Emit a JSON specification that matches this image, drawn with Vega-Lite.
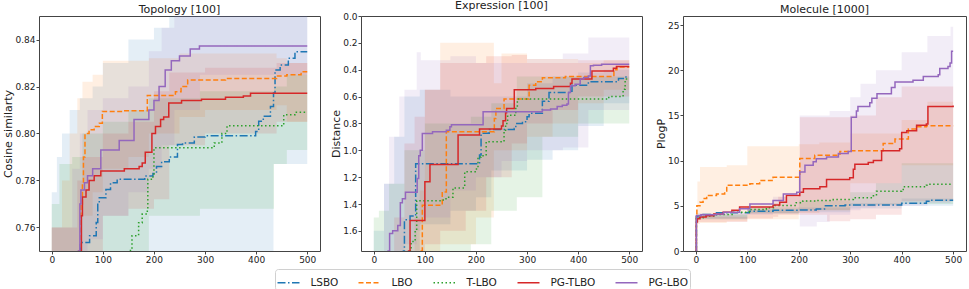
{
"$schema":"https://vega.github.io/schema/vega-lite/v6.json",
"padding":{"left":2,"top":-1,"right":3,"bottom":0},
"bounds":"flush",
"spacing":41,
"config":{
 "font":"DejaVu Sans",
 "view":{"stroke":"#444","strokeWidth":1},
 "axis":{"domain":false,"grid":false,"ticks":true,"tickSize":3,"tickColor":"#444","labelFontSize":9,"labelColor":"#222","titleFontSize":11,"titleFontWeight":"normal","titleColor":"#222","labelPadding":1,"titlePadding":1,"labelOverlap":false},
 "title":{"fontSize":11,"fontWeight":"normal","offset":0,"dy":3,"color":"#222","frame":"group"}
},
"datasets":{
"lines":[
{"p":"t","s":"LSBO","x":0,"y":0.70},{"p":"t","s":"LSBO","x":52,"y":0.750},{"p":"t","s":"LSBO","x":56,"y":0.7536},{"p":"t","s":"LSBO","x":74,"y":0.7565},{"p":"t","s":"LSBO","x":87,"y":0.7621},{"p":"t","s":"LSBO","x":90,"y":0.7706},{"p":"t","s":"LSBO","x":93,"y":0.7727},{"p":"t","s":"LSBO","x":106,"y":0.7762},{"p":"t","s":"LSBO","x":115,"y":0.779},{"p":"t","s":"LSBO","x":128,"y":0.7805},{"p":"t","s":"LSBO","x":182,"y":0.7819},{"p":"t","s":"LSBO","x":198,"y":0.783},{"p":"t","s":"LSBO","x":205,"y":0.786},{"p":"t","s":"LSBO","x":215,"y":0.788},{"p":"t","s":"LSBO","x":230,"y":0.790},{"p":"t","s":"LSBO","x":246,"y":0.7953},{"p":"t","s":"LSBO","x":256,"y":0.796},{"p":"t","s":"LSBO","x":279,"y":0.7985},{"p":"t","s":"LSBO","x":300,"y":0.799},{"p":"t","s":"LSBO","x":399,"y":0.8009},{"p":"t","s":"LSBO","x":405,"y":0.8052},{"p":"t","s":"LSBO","x":414,"y":0.8073},{"p":"t","s":"LSBO","x":428,"y":0.8115},{"p":"t","s":"LSBO","x":434,"y":0.8172},{"p":"t","s":"LSBO","x":437,"y":0.827},{"p":"t","s":"LSBO","x":447,"y":0.8292},{"p":"t","s":"LSBO","x":463,"y":0.832},{"p":"t","s":"LSBO","x":476,"y":0.8348},{"p":"t","s":"LSBO","x":500,"y":0.8348},
{"p":"t","s":"LBO","x":0,"y":0.70},{"p":"t","s":"LBO","x":53,"y":0.750},{"p":"t","s":"LBO","x":57,"y":0.770},{"p":"t","s":"LBO","x":60,"y":0.779},{"p":"t","s":"LBO","x":62,"y":0.790},{"p":"t","s":"LBO","x":65,"y":0.800},{"p":"t","s":"LBO","x":73,"y":0.8016},{"p":"t","s":"LBO","x":83,"y":0.803},{"p":"t","s":"LBO","x":93,"y":0.8044},{"p":"t","s":"LBO","x":99,"y":0.8094},{"p":"t","s":"LBO","x":140,"y":0.8097},{"p":"t","s":"LBO","x":187,"y":0.8162},{"p":"t","s":"LBO","x":242,"y":0.8178},{"p":"t","s":"LBO","x":253,"y":0.820},{"p":"t","s":"LBO","x":266,"y":0.8228},{"p":"t","s":"LBO","x":340,"y":0.8234},{"p":"t","s":"LBO","x":440,"y":0.8245},{"p":"t","s":"LBO","x":460,"y":0.825},{"p":"t","s":"LBO","x":488,"y":0.8263},{"p":"t","s":"LBO","x":500,"y":0.8263},
{"p":"t","s":"T-LBO","x":0,"y":0.70},{"p":"t","s":"T-LBO","x":150,"y":0.750},{"p":"t","s":"T-LBO","x":154,"y":0.7508},{"p":"t","s":"T-LBO","x":157,"y":0.7565},{"p":"t","s":"T-LBO","x":170,"y":0.762},{"p":"t","s":"T-LBO","x":177,"y":0.7657},{"p":"t","s":"T-LBO","x":187,"y":0.768},{"p":"t","s":"T-LBO","x":188,"y":0.7805},{"p":"t","s":"T-LBO","x":198,"y":0.782},{"p":"t","s":"T-LBO","x":200,"y":0.7939},{"p":"t","s":"T-LBO","x":318,"y":0.796},{"p":"t","s":"T-LBO","x":333,"y":0.800},{"p":"t","s":"T-LBO","x":343,"y":0.8033},{"p":"t","s":"T-LBO","x":454,"y":0.808},{"p":"t","s":"T-LBO","x":476,"y":0.809},{"p":"t","s":"T-LBO","x":500,"y":0.809},
{"p":"t","s":"PG-TLBO","x":0,"y":0.70},{"p":"t","s":"PG-TLBO","x":55,"y":0.750},{"p":"t","s":"PG-TLBO","x":58,"y":0.765},{"p":"t","s":"PG-TLBO","x":60,"y":0.773},{"p":"t","s":"PG-TLBO","x":67,"y":0.776},{"p":"t","s":"PG-TLBO","x":73,"y":0.780},{"p":"t","s":"PG-TLBO","x":83,"y":0.782},{"p":"t","s":"PG-TLBO","x":96,"y":0.784},{"p":"t","s":"PG-TLBO","x":142,"y":0.785},{"p":"t","s":"PG-TLBO","x":171,"y":0.786},{"p":"t","s":"PG-TLBO","x":177,"y":0.7875},{"p":"t","s":"PG-TLBO","x":183,"y":0.792},{"p":"t","s":"PG-TLBO","x":196,"y":0.800},{"p":"t","s":"PG-TLBO","x":203,"y":0.803},{"p":"t","s":"PG-TLBO","x":213,"y":0.806},{"p":"t","s":"PG-TLBO","x":219,"y":0.807},{"p":"t","s":"PG-TLBO","x":229,"y":0.813},{"p":"t","s":"PG-TLBO","x":254,"y":0.814},{"p":"t","s":"PG-TLBO","x":293,"y":0.8146},{"p":"t","s":"PG-TLBO","x":340,"y":0.8154},{"p":"t","s":"PG-TLBO","x":375,"y":0.816},{"p":"t","s":"PG-TLBO","x":389,"y":0.8171},{"p":"t","s":"PG-TLBO","x":500,"y":0.8171},
{"p":"t","s":"PG-LBO","x":0,"y":0.70},{"p":"t","s":"PG-LBO","x":52,"y":0.750},{"p":"t","s":"PG-LBO","x":55,"y":0.770},{"p":"t","s":"PG-LBO","x":57,"y":0.776},{"p":"t","s":"PG-LBO","x":64,"y":0.779},{"p":"t","s":"PG-LBO","x":70,"y":0.782},{"p":"t","s":"PG-LBO","x":80,"y":0.785},{"p":"t","s":"PG-LBO","x":96,"y":0.793},{"p":"t","s":"PG-LBO","x":132,"y":0.797},{"p":"t","s":"PG-LBO","x":161,"y":0.806},{"p":"t","s":"PG-LBO","x":190,"y":0.810},{"p":"t","s":"PG-LBO","x":200,"y":0.814},{"p":"t","s":"PG-LBO","x":210,"y":0.820},{"p":"t","s":"PG-LBO","x":222,"y":0.827},{"p":"t","s":"PG-LBO","x":234,"y":0.831},{"p":"t","s":"PG-LBO","x":250,"y":0.833},{"p":"t","s":"PG-LBO","x":271,"y":0.836},{"p":"t","s":"PG-LBO","x":289,"y":0.8372},{"p":"t","s":"PG-LBO","x":500,"y":0.8372},

{"p":"e","s":"LSBO","x":0,"y":1.9},{"p":"e","s":"LSBO","x":58,"y":1.75},{"p":"e","s":"LSBO","x":60,"y":1.518},{"p":"e","s":"LSBO","x":71,"y":1.49},{"p":"e","s":"LSBO","x":82,"y":1.10},{"p":"e","s":"LSBO","x":207,"y":1.035},{"p":"e","s":"LSBO","x":210,"y":0.874},{"p":"e","s":"LSBO","x":226,"y":0.845},{"p":"e","s":"LSBO","x":275,"y":0.837},{"p":"e","s":"LSBO","x":278,"y":0.80},{"p":"e","s":"LSBO","x":291,"y":0.787},{"p":"e","s":"LSBO","x":300,"y":0.75},{"p":"e","s":"LSBO","x":304,"y":0.725},{"p":"e","s":"LSBO","x":330,"y":0.634},{"p":"e","s":"LSBO","x":343,"y":0.57},{"p":"e","s":"LSBO","x":385,"y":0.56},{"p":"e","s":"LSBO","x":388,"y":0.515},{"p":"e","s":"LSBO","x":420,"y":0.49},{"p":"e","s":"LSBO","x":479,"y":0.465},{"p":"e","s":"LSBO","x":490,"y":0.455},{"p":"e","s":"LSBO","x":500,"y":0.455},
{"p":"e","s":"LBO","x":0,"y":1.9},{"p":"e","s":"LBO","x":93,"y":1.75},{"p":"e","s":"LBO","x":95,"y":1.41},{"p":"e","s":"LBO","x":134,"y":1.31},{"p":"e","s":"LBO","x":142,"y":0.862},{"p":"e","s":"LBO","x":236,"y":0.763},{"p":"e","s":"LBO","x":239,"y":0.688},{"p":"e","s":"LBO","x":255,"y":0.619},{"p":"e","s":"LBO","x":304,"y":0.515},{"p":"e","s":"LBO","x":317,"y":0.49},{"p":"e","s":"LBO","x":330,"y":0.46},{"p":"e","s":"LBO","x":375,"y":0.45},{"p":"e","s":"LBO","x":470,"y":0.40},{"p":"e","s":"LBO","x":476,"y":0.38},{"p":"e","s":"LBO","x":500,"y":0.38},
{"p":"e","s":"T-LBO","x":0,"y":1.9},{"p":"e","s":"T-LBO","x":72,"y":1.75},{"p":"e","s":"T-LBO","x":73,"y":1.68},{"p":"e","s":"T-LBO","x":81,"y":1.60},{"p":"e","s":"T-LBO","x":84,"y":1.375},{"p":"e","s":"T-LBO","x":136,"y":1.36},{"p":"e","s":"T-LBO","x":145,"y":1.35},{"p":"e","s":"T-LBO","x":155,"y":1.28},{"p":"e","s":"T-LBO","x":178,"y":1.16},{"p":"e","s":"T-LBO","x":201,"y":1.13},{"p":"e","s":"T-LBO","x":204,"y":1.05},{"p":"e","s":"T-LBO","x":210,"y":1.04},{"p":"e","s":"T-LBO","x":220,"y":0.936},{"p":"e","s":"T-LBO","x":255,"y":0.85},{"p":"e","s":"T-LBO","x":258,"y":0.80},{"p":"e","s":"T-LBO","x":262,"y":0.74},{"p":"e","s":"T-LBO","x":278,"y":0.676},{"p":"e","s":"T-LBO","x":281,"y":0.619},{"p":"e","s":"T-LBO","x":460,"y":0.60},{"p":"e","s":"T-LBO","x":488,"y":0.545},{"p":"e","s":"T-LBO","x":492,"y":0.47},{"p":"e","s":"T-LBO","x":500,"y":0.47},
{"p":"e","s":"PG-TLBO","x":0,"y":1.9},{"p":"e","s":"PG-TLBO","x":68,"y":1.75},{"p":"e","s":"PG-TLBO","x":71,"y":1.523},{"p":"e","s":"PG-TLBO","x":100,"y":1.235},{"p":"e","s":"PG-TLBO","x":110,"y":1.105},{"p":"e","s":"PG-TLBO","x":165,"y":0.887},{"p":"e","s":"PG-TLBO","x":207,"y":0.842},{"p":"e","s":"PG-TLBO","x":250,"y":0.82},{"p":"e","s":"PG-TLBO","x":253,"y":0.78},{"p":"e","s":"PG-TLBO","x":258,"y":0.72},{"p":"e","s":"PG-TLBO","x":260,"y":0.688},{"p":"e","s":"PG-TLBO","x":275,"y":0.55},{"p":"e","s":"PG-TLBO","x":317,"y":0.54},{"p":"e","s":"PG-TLBO","x":352,"y":0.525},{"p":"e","s":"PG-TLBO","x":385,"y":0.50},{"p":"e","s":"PG-TLBO","x":388,"y":0.47},{"p":"e","s":"PG-TLBO","x":427,"y":0.41},{"p":"e","s":"PG-TLBO","x":469,"y":0.39},{"p":"e","s":"PG-TLBO","x":475,"y":0.376},{"p":"e","s":"PG-TLBO","x":500,"y":0.376},
{"p":"e","s":"PG-LBO","x":0,"y":1.9},{"p":"e","s":"PG-LBO","x":28,"y":1.75},{"p":"e","s":"PG-LBO","x":31,"y":1.62},{"p":"e","s":"PG-LBO","x":37,"y":1.60},{"p":"e","s":"PG-LBO","x":47,"y":1.56},{"p":"e","s":"PG-LBO","x":52,"y":1.39},{"p":"e","s":"PG-LBO","x":56,"y":1.36},{"p":"e","s":"PG-LBO","x":62,"y":1.312},{"p":"e","s":"PG-LBO","x":85,"y":1.21},{"p":"e","s":"PG-LBO","x":88,"y":1.04},{"p":"e","s":"PG-LBO","x":91,"y":1.00},{"p":"e","s":"PG-LBO","x":95,"y":0.875},{"p":"e","s":"PG-LBO","x":115,"y":0.862},{"p":"e","s":"PG-LBO","x":142,"y":0.85},{"p":"e","s":"PG-LBO","x":149,"y":0.825},{"p":"e","s":"PG-LBO","x":152,"y":0.81},{"p":"e","s":"PG-LBO","x":214,"y":0.713},{"p":"e","s":"PG-LBO","x":330,"y":0.70},{"p":"e","s":"PG-LBO","x":346,"y":0.693},{"p":"e","s":"PG-LBO","x":359,"y":0.674},{"p":"e","s":"PG-LBO","x":369,"y":0.665},{"p":"e","s":"PG-LBO","x":378,"y":0.656},{"p":"e","s":"PG-LBO","x":381,"y":0.57},{"p":"e","s":"PG-LBO","x":385,"y":0.52},{"p":"e","s":"PG-LBO","x":394,"y":0.508},{"p":"e","s":"PG-LBO","x":404,"y":0.47},{"p":"e","s":"PG-LBO","x":411,"y":0.458},{"p":"e","s":"PG-LBO","x":420,"y":0.446},{"p":"e","s":"PG-LBO","x":424,"y":0.371},{"p":"e","s":"PG-LBO","x":430,"y":0.367},{"p":"e","s":"PG-LBO","x":446,"y":0.359},{"p":"e","s":"PG-LBO","x":500,"y":0.359},

{"p":"m","s":"LSBO","x":0,"y":0},{"p":"m","s":"LSBO","x":1,"y":3.8},{"p":"m","s":"LSBO","x":4,"y":3.93},{"p":"m","s":"LSBO","x":14,"y":4.04},{"p":"m","s":"LSBO","x":40,"y":4.23},{"p":"m","s":"LSBO","x":104,"y":4.41},{"p":"m","s":"LSBO","x":150,"y":4.5},{"p":"m","s":"LSBO","x":201,"y":4.55},{"p":"m","s":"LSBO","x":234,"y":4.65},{"p":"m","s":"LSBO","x":250,"y":5.0},{"p":"m","s":"LSBO","x":290,"y":5.08},{"p":"m","s":"LSBO","x":400,"y":5.27},{"p":"m","s":"LSBO","x":448,"y":5.5},{"p":"m","s":"LSBO","x":455,"y":5.62},{"p":"m","s":"LSBO","x":500,"y":5.62},
{"p":"m","s":"LBO","x":0,"y":0},{"p":"m","s":"LBO","x":1,"y":3.9},{"p":"m","s":"LBO","x":2,"y":5.0},{"p":"m","s":"LBO","x":8,"y":5.4},{"p":"m","s":"LBO","x":14,"y":5.8},{"p":"m","s":"LBO","x":21,"y":6.15},{"p":"m","s":"LBO","x":40,"y":6.3},{"p":"m","s":"LBO","x":56,"y":6.5},{"p":"m","s":"LBO","x":60,"y":7.27},{"p":"m","s":"LBO","x":105,"y":7.45},{"p":"m","s":"LBO","x":124,"y":7.8},{"p":"m","s":"LBO","x":150,"y":8.15},{"p":"m","s":"LBO","x":202,"y":10.24},{"p":"m","s":"LBO","x":231,"y":10.6},{"p":"m","s":"LBO","x":280,"y":11.0},{"p":"m","s":"LBO","x":302,"y":11.1},{"p":"m","s":"LBO","x":364,"y":11.9},{"p":"m","s":"LBO","x":387,"y":12.4},{"p":"m","s":"LBO","x":413,"y":13.5},{"p":"m","s":"LBO","x":429,"y":13.75},{"p":"m","s":"LBO","x":448,"y":13.87},{"p":"m","s":"LBO","x":500,"y":13.87},
{"p":"m","s":"T-LBO","x":0,"y":0},{"p":"m","s":"T-LBO","x":1,"y":3.67},{"p":"m","s":"T-LBO","x":14,"y":3.86},{"p":"m","s":"T-LBO","x":40,"y":4.04},{"p":"m","s":"T-LBO","x":72,"y":4.3},{"p":"m","s":"T-LBO","x":104,"y":4.6},{"p":"m","s":"T-LBO","x":137,"y":4.78},{"p":"m","s":"T-LBO","x":153,"y":5.04},{"p":"m","s":"T-LBO","x":195,"y":5.34},{"p":"m","s":"T-LBO","x":208,"y":5.53},{"p":"m","s":"T-LBO","x":234,"y":5.6},{"p":"m","s":"T-LBO","x":267,"y":5.7},{"p":"m","s":"T-LBO","x":306,"y":5.9},{"p":"m","s":"T-LBO","x":345,"y":6.1},{"p":"m","s":"T-LBO","x":351,"y":6.6},{"p":"m","s":"T-LBO","x":400,"y":6.7},{"p":"m","s":"T-LBO","x":403,"y":7.1},{"p":"m","s":"T-LBO","x":448,"y":7.27},{"p":"m","s":"T-LBO","x":455,"y":7.38},{"p":"m","s":"T-LBO","x":500,"y":7.38},
{"p":"m","s":"PG-TLBO","x":0,"y":0},{"p":"m","s":"PG-TLBO","x":1,"y":3.2},{"p":"m","s":"PG-TLBO","x":3,"y":3.56},{"p":"m","s":"PG-TLBO","x":8,"y":3.75},{"p":"m","s":"PG-TLBO","x":20,"y":3.9},{"p":"m","s":"PG-TLBO","x":35,"y":4.1},{"p":"m","s":"PG-TLBO","x":53,"y":4.3},{"p":"m","s":"PG-TLBO","x":70,"y":4.5},{"p":"m","s":"PG-TLBO","x":85,"y":4.86},{"p":"m","s":"PG-TLBO","x":150,"y":5.1},{"p":"m","s":"PG-TLBO","x":163,"y":5.4},{"p":"m","s":"PG-TLBO","x":176,"y":6.15},{"p":"m","s":"PG-TLBO","x":202,"y":6.5},{"p":"m","s":"PG-TLBO","x":209,"y":6.9},{"p":"m","s":"PG-TLBO","x":241,"y":7.12},{"p":"m","s":"PG-TLBO","x":254,"y":7.9},{"p":"m","s":"PG-TLBO","x":299,"y":8.1},{"p":"m","s":"PG-TLBO","x":306,"y":9.05},{"p":"m","s":"PG-TLBO","x":309,"y":9.6},{"p":"m","s":"PG-TLBO","x":335,"y":9.8},{"p":"m","s":"PG-TLBO","x":345,"y":10.0},{"p":"m","s":"PG-TLBO","x":361,"y":11.1},{"p":"m","s":"PG-TLBO","x":396,"y":11.3},{"p":"m","s":"PG-TLBO","x":400,"y":13.1},{"p":"m","s":"PG-TLBO","x":410,"y":13.3},{"p":"m","s":"PG-TLBO","x":429,"y":13.9},{"p":"m","s":"PG-TLBO","x":448,"y":14.05},{"p":"m","s":"PG-TLBO","x":451,"y":16.0},{"p":"m","s":"PG-TLBO","x":500,"y":16.1},
{"p":"m","s":"PG-LBO","x":0,"y":0},{"p":"m","s":"PG-LBO","x":1,"y":3.9},{"p":"m","s":"PG-LBO","x":10,"y":4.0},{"p":"m","s":"PG-LBO","x":40,"y":4.1},{"p":"m","s":"PG-LBO","x":54,"y":4.3},{"p":"m","s":"PG-LBO","x":85,"y":4.67},{"p":"m","s":"PG-LBO","x":105,"y":5.2},{"p":"m","s":"PG-LBO","x":150,"y":5.6},{"p":"m","s":"PG-LBO","x":170,"y":6.3},{"p":"m","s":"PG-LBO","x":196,"y":6.5},{"p":"m","s":"PG-LBO","x":202,"y":8.75},{"p":"m","s":"PG-LBO","x":212,"y":9.5},{"p":"m","s":"PG-LBO","x":228,"y":9.87},{"p":"m","s":"PG-LBO","x":234,"y":10.2},{"p":"m","s":"PG-LBO","x":254,"y":10.4},{"p":"m","s":"PG-LBO","x":277,"y":10.8},{"p":"m","s":"PG-LBO","x":296,"y":11.0},{"p":"m","s":"PG-LBO","x":302,"y":14.8},{"p":"m","s":"PG-LBO","x":312,"y":15.5},{"p":"m","s":"PG-LBO","x":315,"y":16.0},{"p":"m","s":"PG-LBO","x":338,"y":16.4},{"p":"m","s":"PG-LBO","x":342,"y":16.9},{"p":"m","s":"PG-LBO","x":352,"y":17.4},{"p":"m","s":"PG-LBO","x":380,"y":18.1},{"p":"m","s":"PG-LBO","x":387,"y":18.7},{"p":"m","s":"PG-LBO","x":422,"y":18.9},{"p":"m","s":"PG-LBO","x":442,"y":19.3},{"p":"m","s":"PG-LBO","x":471,"y":19.5},{"p":"m","s":"PG-LBO","x":474,"y":20.2},{"p":"m","s":"PG-LBO","x":490,"y":20.4},{"p":"m","s":"PG-LBO","x":494,"y":20.8},{"p":"m","s":"PG-LBO","x":497,"y":22.1},{"p":"m","s":"PG-LBO","x":500,"y":22.1}
],
"bands":[
{"p":"t","s":"LSBO","x":0,"lo":0.74,"hi":0.775},{"p":"t","s":"LSBO","x":10,"lo":0.74,"hi":0.79},{"p":"t","s":"LSBO","x":20,"lo":0.74,"hi":0.80},{"p":"t","s":"LSBO","x":35,"lo":0.74,"hi":0.81},{"p":"t","s":"LSBO","x":55,"lo":0.74,"hi":0.815},{"p":"t","s":"LSBO","x":80,"lo":0.74,"hi":0.82},{"p":"t","s":"LSBO","x":100,"lo":0.74,"hi":0.83},{"p":"t","s":"LSBO","x":150,"lo":0.74,"hi":0.84},{"p":"t","s":"LSBO","x":200,"lo":0.74,"hi":0.845},{"p":"t","s":"LSBO","x":230,"lo":0.74,"hi":0.85},{"p":"t","s":"LSBO","x":434,"lo":0.787,"hi":0.85},{"p":"t","s":"LSBO","x":500,"lo":0.787,"hi":0.85},
{"p":"t","s":"LBO","x":0,"lo":0.74,"hi":0.76},{"p":"t","s":"LBO","x":20,"lo":0.74,"hi":0.78},{"p":"t","s":"LBO","x":35,"lo":0.74,"hi":0.80},{"p":"t","s":"LBO","x":50,"lo":0.745,"hi":0.815},{"p":"t","s":"LBO","x":60,"lo":0.765,"hi":0.822},{"p":"t","s":"LBO","x":80,"lo":0.775,"hi":0.825},{"p":"t","s":"LBO","x":100,"lo":0.785,"hi":0.831},{"p":"t","s":"LBO","x":150,"lo":0.79,"hi":0.831},{"p":"t","s":"LBO","x":190,"lo":0.80,"hi":0.832},{"p":"t","s":"LBO","x":250,"lo":0.807,"hi":0.834},{"p":"t","s":"LBO","x":300,"lo":0.81,"hi":0.834},{"p":"t","s":"LBO","x":440,"lo":0.812,"hi":0.832},{"p":"t","s":"LBO","x":460,"lo":0.805,"hi":0.83},{"p":"t","s":"LBO","x":500,"lo":0.805,"hi":0.83},
{"p":"t","s":"T-LBO","x":0,"lo":0.74,"hi":0.77},{"p":"t","s":"T-LBO","x":15,"lo":0.74,"hi":0.787},{"p":"t","s":"T-LBO","x":40,"lo":0.74,"hi":0.79},{"p":"t","s":"T-LBO","x":60,"lo":0.74,"hi":0.80},{"p":"t","s":"T-LBO","x":100,"lo":0.74,"hi":0.805},{"p":"t","s":"T-LBO","x":150,"lo":0.74,"hi":0.81},{"p":"t","s":"T-LBO","x":190,"lo":0.765,"hi":0.815},{"p":"t","s":"T-LBO","x":290,"lo":0.768,"hi":0.818},{"p":"t","s":"T-LBO","x":435,"lo":0.787,"hi":0.82},{"p":"t","s":"T-LBO","x":460,"lo":0.793,"hi":0.825},{"p":"t","s":"T-LBO","x":500,"lo":0.793,"hi":0.825},
{"p":"t","s":"PG-TLBO","x":0,"lo":0.74,"hi":0.76},{"p":"t","s":"PG-TLBO","x":50,"lo":0.74,"hi":0.78},{"p":"t","s":"PG-TLBO","x":60,"lo":0.748,"hi":0.79},{"p":"t","s":"PG-TLBO","x":100,"lo":0.765,"hi":0.80},{"p":"t","s":"PG-TLBO","x":150,"lo":0.768,"hi":0.805},{"p":"t","s":"PG-TLBO","x":200,"lo":0.772,"hi":0.818},{"p":"t","s":"PG-TLBO","x":230,"lo":0.795,"hi":0.826},{"p":"t","s":"PG-TLBO","x":300,"lo":0.80,"hi":0.828},{"p":"t","s":"PG-TLBO","x":440,"lo":0.805,"hi":0.83},{"p":"t","s":"PG-TLBO","x":500,"lo":0.805,"hi":0.83},
{"p":"t","s":"PG-LBO","x":0,"lo":0.74,"hi":0.76},{"p":"t","s":"PG-LBO","x":40,"lo":0.74,"hi":0.785},{"p":"t","s":"PG-LBO","x":55,"lo":0.745,"hi":0.80},{"p":"t","s":"PG-LBO","x":70,"lo":0.755,"hi":0.81},{"p":"t","s":"PG-LBO","x":100,"lo":0.765,"hi":0.815},{"p":"t","s":"PG-LBO","x":150,"lo":0.775,"hi":0.82},{"p":"t","s":"PG-LBO","x":190,"lo":0.785,"hi":0.835},{"p":"t","s":"PG-LBO","x":215,"lo":0.795,"hi":0.845},{"p":"t","s":"PG-LBO","x":240,"lo":0.81,"hi":0.85},{"p":"t","s":"PG-LBO","x":290,"lo":0.825,"hi":0.85},{"p":"t","s":"PG-LBO","x":500,"lo":0.826,"hi":0.85},

{"p":"e","s":"LSBO","x":0,"lo":1.9,"hi":1.6},{"p":"e","s":"LSBO","x":20,"lo":1.9,"hi":1.25},{"p":"e","s":"LSBO","x":40,"lo":1.9,"hi":0.9},{"p":"e","s":"LSBO","x":60,"lo":1.75,"hi":0.6},{"p":"e","s":"LSBO","x":90,"lo":1.55,"hi":0.55},{"p":"e","s":"LSBO","x":150,"lo":1.45,"hi":0.6},{"p":"e","s":"LSBO","x":200,"lo":1.35,"hi":0.6},{"p":"e","s":"LSBO","x":230,"lo":1.15,"hi":0.6},{"p":"e","s":"LSBO","x":300,"lo":1.07,"hi":0.5},{"p":"e","s":"LSBO","x":350,"lo":1.0,"hi":0.45},{"p":"e","s":"LSBO","x":400,"lo":0.82,"hi":0.42},{"p":"e","s":"LSBO","x":450,"lo":0.65,"hi":0.4},{"p":"e","s":"LSBO","x":500,"lo":0.55,"hi":0.38},
{"p":"e","s":"LBO","x":0,"lo":1.9,"hi":1.9},{"p":"e","s":"LBO","x":80,"lo":1.9,"hi":1.5},{"p":"e","s":"LBO","x":90,"lo":1.9,"hi":1.3},{"p":"e","s":"LBO","x":100,"lo":1.75,"hi":0.55},{"p":"e","s":"LBO","x":130,"lo":1.7,"hi":0.2},{"p":"e","s":"LBO","x":200,"lo":1.5,"hi":0.2},{"p":"e","s":"LBO","x":235,"lo":1.0,"hi":0.5},{"p":"e","s":"LBO","x":250,"lo":1.0,"hi":0.28},{"p":"e","s":"LBO","x":300,"lo":0.9,"hi":0.32},{"p":"e","s":"LBO","x":350,"lo":0.8,"hi":0.32},{"p":"e","s":"LBO","x":400,"lo":0.65,"hi":0.35},{"p":"e","s":"LBO","x":450,"lo":0.55,"hi":0.33},{"p":"e","s":"LBO","x":500,"lo":0.5,"hi":0.33},
{"p":"e","s":"T-LBO","x":0,"lo":1.9,"hi":1.5},{"p":"e","s":"T-LBO","x":10,"lo":1.9,"hi":1.45},{"p":"e","s":"T-LBO","x":30,"lo":1.9,"hi":1.25},{"p":"e","s":"T-LBO","x":60,"lo":1.9,"hi":1.0},{"p":"e","s":"T-LBO","x":100,"lo":1.9,"hi":0.8},{"p":"e","s":"T-LBO","x":150,"lo":1.9,"hi":0.8},{"p":"e","s":"T-LBO","x":190,"lo":1.7,"hi":0.75},{"p":"e","s":"T-LBO","x":230,"lo":1.45,"hi":0.65},{"p":"e","s":"T-LBO","x":280,"lo":1.35,"hi":0.45},{"p":"e","s":"T-LBO","x":330,"lo":0.9,"hi":0.45},{"p":"e","s":"T-LBO","x":400,"lo":0.8,"hi":0.45},{"p":"e","s":"T-LBO","x":500,"lo":0.7,"hi":0.45},
{"p":"e","s":"PG-TLBO","x":0,"lo":1.9,"hi":1.9},{"p":"e","s":"PG-TLBO","x":40,"lo":1.9,"hi":1.5},{"p":"e","s":"PG-TLBO","x":60,"lo":1.9,"hi":0.95},{"p":"e","s":"PG-TLBO","x":80,"lo":1.75,"hi":0.75},{"p":"e","s":"PG-TLBO","x":100,"lo":1.7,"hi":0.55},{"p":"e","s":"PG-TLBO","x":130,"lo":1.6,"hi":0.35},{"p":"e","s":"PG-TLBO","x":180,"lo":1.45,"hi":0.35},{"p":"e","s":"PG-TLBO","x":220,"lo":1.2,"hi":0.3},{"p":"e","s":"PG-TLBO","x":270,"lo":0.95,"hi":0.29},{"p":"e","s":"PG-TLBO","x":300,"lo":0.8,"hi":0.35},{"p":"e","s":"PG-TLBO","x":350,"lo":0.7,"hi":0.35},{"p":"e","s":"PG-TLBO","x":400,"lo":0.6,"hi":0.33},{"p":"e","s":"PG-TLBO","x":500,"lo":0.5,"hi":0.33},
{"p":"e","s":"PG-LBO","x":0,"lo":1.9,"hi":1.75},{"p":"e","s":"PG-LBO","x":20,"lo":1.9,"hi":1.25},{"p":"e","s":"PG-LBO","x":30,"lo":1.9,"hi":0.9},{"p":"e","s":"PG-LBO","x":50,"lo":1.75,"hi":0.6},{"p":"e","s":"PG-LBO","x":60,"lo":1.7,"hi":0.55},{"p":"e","s":"PG-LBO","x":84,"lo":1.6,"hi":0.27},{"p":"e","s":"PG-LBO","x":92,"lo":1.5,"hi":0.33},{"p":"e","s":"PG-LBO","x":150,"lo":1.3,"hi":0.3},{"p":"e","s":"PG-LBO","x":200,"lo":1.2,"hi":0.35},{"p":"e","s":"PG-LBO","x":250,"lo":1.08,"hi":0.35},{"p":"e","s":"PG-LBO","x":300,"lo":1.0,"hi":0.32},{"p":"e","s":"PG-LBO","x":370,"lo":0.98,"hi":0.28},{"p":"e","s":"PG-LBO","x":420,"lo":0.7,"hi":0.16},{"p":"e","s":"PG-LBO","x":500,"lo":0.55,"hi":0.16},

{"p":"m","s":"LSBO","x":0,"lo":3.6,"hi":4.1},{"p":"m","s":"LSBO","x":100,"lo":4.1,"hi":4.6},{"p":"m","s":"LSBO","x":200,"lo":4.3,"hi":4.8},{"p":"m","s":"LSBO","x":300,"lo":4.7,"hi":5.3},{"p":"m","s":"LSBO","x":400,"lo":5.0,"hi":5.8},{"p":"m","s":"LSBO","x":500,"lo":5.3,"hi":5.9},
{"p":"m","s":"LBO","x":0,"lo":3.0,"hi":4.0},{"p":"m","s":"LBO","x":3,"lo":3.0,"hi":7.7},{"p":"m","s":"LBO","x":8,"lo":3.1,"hi":9.3},{"p":"m","s":"LBO","x":60,"lo":3.3,"hi":9.5},{"p":"m","s":"LBO","x":100,"lo":3.5,"hi":11.6},{"p":"m","s":"LBO","x":200,"lo":4.2,"hi":11.8},{"p":"m","s":"LBO","x":240,"lo":4.5,"hi":12.0},{"p":"m","s":"LBO","x":300,"lo":7.5,"hi":13.0},{"p":"m","s":"LBO","x":400,"lo":9.5,"hi":14.5},{"p":"m","s":"LBO","x":450,"lo":9.5,"hi":16.5},{"p":"m","s":"LBO","x":500,"lo":9.5,"hi":16.5},
{"p":"m","s":"T-LBO","x":0,"lo":3.5,"hi":4.0},{"p":"m","s":"T-LBO","x":100,"lo":4.2,"hi":4.8},{"p":"m","s":"T-LBO","x":200,"lo":4.5,"hi":5.6},{"p":"m","s":"T-LBO","x":300,"lo":5.0,"hi":6.5},{"p":"m","s":"T-LBO","x":350,"lo":5.1,"hi":7.5},{"p":"m","s":"T-LBO","x":400,"lo":5.2,"hi":9.7},{"p":"m","s":"T-LBO","x":500,"lo":5.2,"hi":9.7},
{"p":"m","s":"PG-TLBO","x":0,"lo":3.2,"hi":3.8},{"p":"m","s":"PG-TLBO","x":100,"lo":3.6,"hi":4.8},{"p":"m","s":"PG-TLBO","x":150,"lo":3.8,"hi":5.3},{"p":"m","s":"PG-TLBO","x":160,"lo":4.0,"hi":6.0},{"p":"m","s":"PG-TLBO","x":200,"lo":4.0,"hi":8.0},{"p":"m","s":"PG-TLBO","x":202,"lo":4.0,"hi":14.8},{"p":"m","s":"PG-TLBO","x":255,"lo":3.3,"hi":14.8},{"p":"m","s":"PG-TLBO","x":300,"lo":3.5,"hi":15.0},{"p":"m","s":"PG-TLBO","x":350,"lo":4.0,"hi":17.0},{"p":"m","s":"PG-TLBO","x":400,"lo":5.5,"hi":18.2},{"p":"m","s":"PG-TLBO","x":500,"lo":5.5,"hi":18.2},
{"p":"m","s":"PG-LBO","x":0,"lo":3.5,"hi":4.2},{"p":"m","s":"PG-LBO","x":100,"lo":4.0,"hi":5.0},{"p":"m","s":"PG-LBO","x":150,"lo":4.2,"hi":6.0},{"p":"m","s":"PG-LBO","x":200,"lo":4.2,"hi":9.0},{"p":"m","s":"PG-LBO","x":202,"lo":2.7,"hi":15.0},{"p":"m","s":"PG-LBO","x":235,"lo":3.2,"hi":15.0},{"p":"m","s":"PG-LBO","x":260,"lo":4.0,"hi":15.5},{"p":"m","s":"PG-LBO","x":300,"lo":4.5,"hi":17.0},{"p":"m","s":"PG-LBO","x":320,"lo":4.8,"hi":18.5},{"p":"m","s":"PG-LBO","x":350,"lo":5.0,"hi":20.0},{"p":"m","s":"PG-LBO","x":400,"lo":5.0,"hi":22.0},{"p":"m","s":"PG-LBO","x":450,"lo":5.3,"hi":23.8},{"p":"m","s":"PG-LBO","x":495,"lo":5.5,"hi":24.8},{"p":"m","s":"PG-LBO","x":500,"lo":5.5,"hi":24.8}
]
},
"hconcat":[
{"width":281,"height":235,"title":"Topology [100]",
 "layer":[
  {"data":{"name":"bands"},"transform":[{"filter":"datum.p=='t'"}],
   "mark":{"type":"area","interpolate":"step-after","opacity":0.12,"clip":true},
   "encoding":{
    "x":{"field":"x","type":"quantitative","scale":{"domain":[-25,525],"nice":false,"zero":false},"axis":{"title":null,"values":[0,100,200,300,400,500],"tickCount":10,"labelOverlap":false}},
    "y":{"field":"lo","type":"quantitative","scale":{"domain":[0.75,0.85],"nice":false,"zero":false},"axis":{"title":"Cosine similarty","values":[0.76,0.78,0.80,0.82,0.84],"tickCount":10,"format":".2f","labelOverlap":false}},
    "y2":{"field":"hi"},
    "fill":{"field":"s","type":"nominal","legend":null,"scale":{"domain":["PG-LBO","PG-TLBO","T-LBO","LBO","LSBO"],"range":["#9467bd","#d62728","#2ca02c","#ff7f0e","#1f77b4"]}}}},
  {"data":{"name":"lines"},"transform":[{"filter":"datum.p=='t'"}],
   "mark":{"type":"line","interpolate":"step-after","strokeWidth":1.5,"clip":true},
   "encoding":{
    "x":{"field":"x","type":"quantitative"},
    "y":{"field":"y","type":"quantitative"},
    "color":{"field":"s","type":"nominal","scale":{"domain":["LSBO","LBO","T-LBO","PG-TLBO","PG-LBO"],"range":["#1f77b4","#ff7f0e","#2ca02c","#d62728","#9467bd"]},"legend":{"title":null,"orient":"none","legendX":236,"legendY":253,"direction":"horizontal","symbolType":"stroke","symbolSize":484,"symbolStrokeWidth":1.5,"labelFontSize":10.5,"labelColor":"#222","labelOffset":10,"columnPadding":17,"padding":1.5,"strokeColor":"#d0d0d0","fillColor":"white","cornerRadius":3}},
    "strokeDash":{"field":"s","type":"nominal","scale":{"domain":["LSBO","LBO","T-LBO","PG-TLBO","PG-LBO"],"range":[[8,2.5,1.5,2.5],[5,2.5],[1.5,2.5],[1,0],[1,0]]},"legend":{"title":null,"orient":"none","legendX":236,"legendY":253,"direction":"horizontal","symbolType":"stroke","symbolSize":484,"symbolStrokeWidth":1.5,"labelFontSize":10.5,"labelColor":"#222","labelOffset":10,"columnPadding":17,"padding":1.5,"strokeColor":"#d0d0d0","fillColor":"white","cornerRadius":3}}}}
 ]},
{"width":281,"height":235,"title":"Expression [100]",
 "layer":[
  {"data":{"name":"bands"},"transform":[{"filter":"datum.p=='e'"}],
   "mark":{"type":"area","interpolate":"step-after","opacity":0.12,"clip":true},
   "encoding":{
    "x":{"field":"x","type":"quantitative","scale":{"domain":[-25,525],"nice":false,"zero":false},"axis":{"title":null,"values":[0,100,200,300,400,500],"tickCount":10,"labelOverlap":false}},
    "y":{"field":"lo","type":"quantitative","scale":{"domain":[0,1.75],"reverse":true,"nice":false,"zero":false},"axis":{"title":"Distance","values":[0,0.2,0.4,0.6,0.8,1.0,1.2,1.4,1.6],"tickCount":12,"format":".1f","labelOverlap":false}},
    "y2":{"field":"hi"},
    "fill":{"field":"s","type":"nominal","legend":null,"scale":{"domain":["PG-LBO","PG-TLBO","T-LBO","LBO","LSBO"],"range":["#9467bd","#d62728","#2ca02c","#ff7f0e","#1f77b4"]}}}},
  {"data":{"name":"lines"},"transform":[{"filter":"datum.p=='e'"}],
   "mark":{"type":"line","interpolate":"step-after","strokeWidth":1.5,"clip":true},
   "encoding":{
    "x":{"field":"x","type":"quantitative"},
    "y":{"field":"y","type":"quantitative"},
    "color":{"field":"s","type":"nominal","scale":{"domain":["LSBO","LBO","T-LBO","PG-TLBO","PG-LBO"],"range":["#1f77b4","#ff7f0e","#2ca02c","#d62728","#9467bd"]},"legend":{"title":null,"orient":"none","legendX":236,"legendY":253,"direction":"horizontal","symbolType":"stroke","symbolSize":484,"symbolStrokeWidth":1.5,"labelFontSize":10.5,"labelColor":"#222","labelOffset":10,"columnPadding":17,"padding":1.5,"strokeColor":"#d0d0d0","fillColor":"white","cornerRadius":3}},
    "strokeDash":{"field":"s","type":"nominal","scale":{"domain":["LSBO","LBO","T-LBO","PG-TLBO","PG-LBO"],"range":[[8,2.5,1.5,2.5],[5,2.5],[1.5,2.5],[1,0],[1,0]]},"legend":{"title":null,"orient":"none","legendX":236,"legendY":253,"direction":"horizontal","symbolType":"stroke","symbolSize":484,"symbolStrokeWidth":1.5,"labelFontSize":10.5,"labelColor":"#222","labelOffset":10,"columnPadding":17,"padding":1.5,"strokeColor":"#d0d0d0","fillColor":"white","cornerRadius":3}}}}
 ]},
{"width":283,"height":235,"title":"Molecule [1000]",
 "layer":[
  {"data":{"name":"bands"},"transform":[{"filter":"datum.p=='m'"}],
   "mark":{"type":"area","interpolate":"step-after","opacity":0.12,"clip":true},
   "encoding":{
    "x":{"field":"x","type":"quantitative","scale":{"domain":[-25,525],"nice":false,"zero":false},"axis":{"title":null,"values":[0,100,200,300,400,500],"tickCount":10,"labelOverlap":false}},
    "y":{"field":"lo","type":"quantitative","scale":{"domain":[0,26],"nice":false,"zero":false},"axis":{"title":"PlogP","values":[0,5,10,15,20,25],"tickCount":10,"labelOverlap":false}},
    "y2":{"field":"hi"},
    "fill":{"field":"s","type":"nominal","legend":null,"scale":{"domain":["PG-LBO","PG-TLBO","T-LBO","LBO","LSBO"],"range":["#9467bd","#d62728","#2ca02c","#ff7f0e","#1f77b4"]}}}},
  {"data":{"name":"lines"},"transform":[{"filter":"datum.p=='m'"}],
   "mark":{"type":"line","interpolate":"step-after","strokeWidth":1.5,"clip":true},
   "encoding":{
    "x":{"field":"x","type":"quantitative"},
    "y":{"field":"y","type":"quantitative"},
    "color":{"field":"s","type":"nominal","scale":{"domain":["LSBO","LBO","T-LBO","PG-TLBO","PG-LBO"],"range":["#1f77b4","#ff7f0e","#2ca02c","#d62728","#9467bd"]},"legend":{"title":null,"orient":"none","legendX":236,"legendY":253,"direction":"horizontal","symbolType":"stroke","symbolSize":484,"symbolStrokeWidth":1.5,"labelFontSize":10.5,"labelColor":"#222","labelOffset":10,"columnPadding":17,"padding":1.5,"strokeColor":"#d0d0d0","fillColor":"white","cornerRadius":3}},
    "strokeDash":{"field":"s","type":"nominal","scale":{"domain":["LSBO","LBO","T-LBO","PG-TLBO","PG-LBO"],"range":[[8,2.5,1.5,2.5],[5,2.5],[1.5,2.5],[1,0],[1,0]]},"legend":{"title":null,"orient":"none","legendX":236,"legendY":253,"direction":"horizontal","symbolType":"stroke","symbolSize":484,"symbolStrokeWidth":1.5,"labelFontSize":10.5,"labelColor":"#222","labelOffset":10,"columnPadding":17,"padding":1.5,"strokeColor":"#d0d0d0","fillColor":"white","cornerRadius":3}}}}
 ]}
]
}
